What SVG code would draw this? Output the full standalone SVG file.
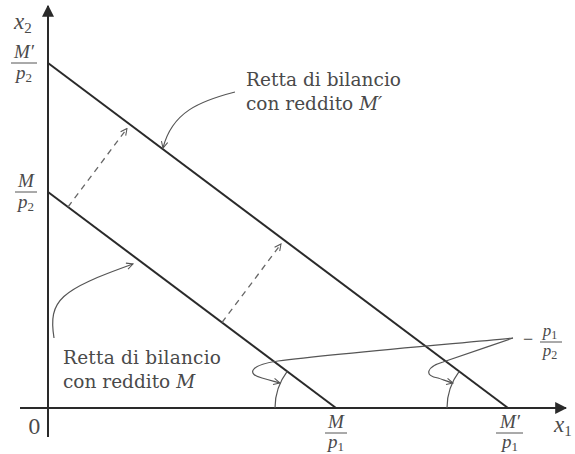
<svg xmlns="http://www.w3.org/2000/svg" width="575" height="454" viewBox="0 0 575 454">
<style>
.ln{stroke:#2a2a2a;stroke-width:2;fill:none}
.ax{stroke:#2a2a2a;stroke-width:2;fill:none}
.ds{stroke:#666;stroke-width:1.3;stroke-dasharray:6 5;fill:none}
.pt{stroke:#555;stroke-width:1.2;fill:none}
.t{font-family:"DejaVu Serif","Liberation Serif",serif;font-size:18.5px;fill:#4a4a4a}
.m{font-family:"Liberation Serif","DejaVu Serif",serif;font-style:italic;font-size:19px;fill:#4a4a4a}
.s{font-style:normal;font-size:13px}
.fb{stroke:#555;stroke-width:1}
</style>
<defs>
<marker id="ah" viewBox="0 0 10 10" refX="9" refY="5" markerWidth="12" markerHeight="12" markerUnits="userSpaceOnUse" orient="auto">
<path d="M0,0 L10,5 L0,10 Z" fill="#2a2a2a"/>
</marker>
<marker id="oa" viewBox="0 0 10 10" refX="9" refY="5" markerWidth="8" markerHeight="8" markerUnits="userSpaceOnUse" orient="auto">
<path d="M1,1 L9,5 L1,9" fill="none" stroke="#555" stroke-width="1.3"/>
</marker>
</defs>
<g id="axes">
<line class="ax" x1="48" y1="437" x2="48" y2="6" marker-end="url(#ah)"/>
<line class="ax" x1="20" y1="408" x2="566" y2="408" marker-end="url(#ah)"/>
<text class="m" x="14" y="29" style="font-size:23px">x<tspan class="s" dy="4" style="font-size:15px">2</tspan></text>
<text class="m" x="554" y="432" style="font-size:23px">x<tspan class="s" dy="4" style="font-size:15px">1</tspan></text>
<text class="t" x="28" y="434" style="font-size:20px">0</text>
</g>
<g id="budget-lines">
<line class="ln" x1="48" y1="63" x2="508" y2="408"/>
<line class="ln" x1="48" y1="192" x2="336" y2="408"/>
</g>
<g id="labels-y">
<text class="m" x="24" y="58" text-anchor="middle">M′</text>
<line class="fb" x1="11" y1="63" x2="37" y2="63"/>
<text class="m" x="24" y="79" text-anchor="middle">p<tspan class="s" dy="3">2</tspan></text>
<text class="m" x="26" y="187" text-anchor="middle">M</text>
<line class="fb" x1="15" y1="192" x2="37" y2="192"/>
<text class="m" x="26" y="208" text-anchor="middle">p<tspan class="s" dy="3">2</tspan></text>
</g>
<g id="labels-x">
<text class="m" x="336" y="428" text-anchor="middle">M</text>
<line class="fb" x1="325" y1="433" x2="347" y2="433"/>
<text class="m" x="336" y="448" text-anchor="middle">p<tspan class="s" dy="3">1</tspan></text>
<text class="m" x="510" y="428" text-anchor="middle">M′</text>
<line class="fb" x1="496" y1="433" x2="523" y2="433"/>
<text class="m" x="510" y="448" text-anchor="middle">p<tspan class="s" dy="3">1</tspan></text>
</g>
<g id="label-slope">
<text class="m" x="523" y="345" style="font-size:18px;font-style:normal">−</text>
<text class="m" x="550" y="336" text-anchor="middle" style="font-size:17px">p<tspan class="s" dy="3" style="font-size:12px">1</tspan></text>
<line class="fb" x1="540" y1="342" x2="562" y2="342"/>
<text class="m" x="550" y="356" text-anchor="middle" style="font-size:17px">p<tspan class="s" dy="3" style="font-size:12px">2</tspan></text>
</g>
<g id="label-Mprime">
<text class="t" x="246" y="86" textLength="155" lengthAdjust="spacing">Retta di bilancio</text>
<text class="t" x="246" y="110">con reddito <tspan font-style="italic">M′</tspan></text>
</g>
<g id="label-M">
<text class="t" x="63" y="364" textLength="158" lengthAdjust="spacing">Retta di bilancio</text>
<text class="t" x="63" y="388">con reddito <tspan font-style="italic">M</tspan></text>
</g>
<g id="connectors">
<line class="ds" x1="68" y1="207" x2="127" y2="128.5" marker-end="url(#oa)"/>
<line class="ds" x1="222" y1="322.5" x2="281" y2="244" marker-end="url(#oa)"/>
<path class="pt" d="M235,92 C200,101 172,112 163,148" marker-end="url(#oa)"/>
<path class="pt" d="M54,338 C48,300 60,290 133,264" marker-end="url(#oa)"/>
<path class="pt" d="M275,408 A61,61 0 0 1 287.2,371.4"/>
<path class="pt" d="M447,408 A61,61 0 0 1 459.2,371.4"/>
<path class="pt" d="M513,338 C450,344 330,354 278,361 C250,365 246,374 262,378 C270,380 276,382 280,383" marker-end="url(#oa)"/>
<path class="pt" d="M513,338 C490,346 460,356 443,362 C426,367 424,376 438,378 C444,380 449,382 453,383" marker-end="url(#oa)"/>
</g>
</svg>
